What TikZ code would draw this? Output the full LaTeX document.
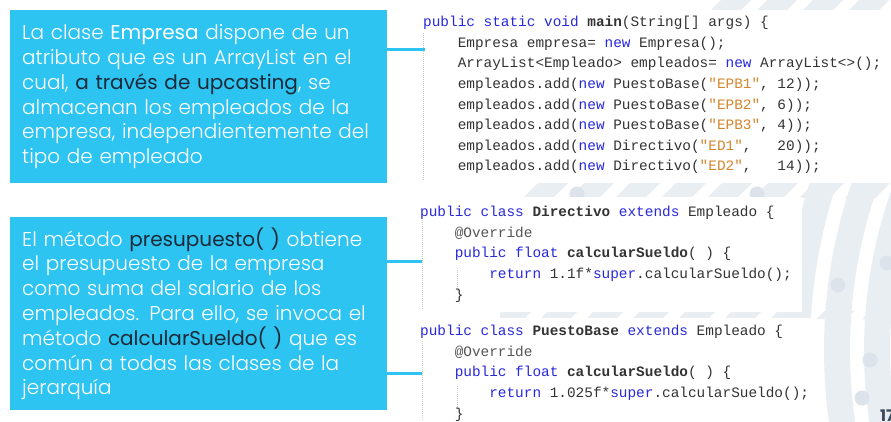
\documentclass[tikz,border=0pt]{standalone}
\usepackage{fontspec}
\setmainfont{Poppins Light}
\newfontfamily\regfont{Poppins}
\setmonofont{Liberation Mono}
\definecolor{boxblue}{HTML}{2EC4F2}
\definecolor{decogray}{HTML}{E9EEF3}
\definecolor{dotgray}{HTML}{DCE3EA}
\definecolor{kwc}{HTML}{2828DC}
\definecolor{strc}{HTML}{D4862E}
\definecolor{codetxt}{HTML}{333333}
\definecolor{annc}{HTML}{555555}
\definecolor{darkc}{HTML}{1B2A38}
\definecolor{pagec}{HTML}{3D4B5C}
\newcommand{\kwd}[1]{\textcolor{kwc}{#1}}
\newcommand{\strg}[1]{\textcolor{strc}{#1}}
\newcommand{\dk}[1]{\textcolor{darkc}{\regfont #1}}
\newcommand{\cind}[1]{\hspace*{#1\dimexpr0.6em\relax}}
\begin{document}
\begin{tikzpicture}[x=1pt, y=-1pt]
    % Define styles
    \tikzset{
        note/.style={fill=boxblue, text=white, anchor=north west, minimum width=377pt, text width=353pt, inner xsep=12pt, inner ysep=0pt, align=left, font=\fontsize{20}{25}\selectfont, execute at begin node={\setlength{\baselineskip}{24.8pt}}},
        panel/.style={fill=white, anchor=north west, inner sep=0pt},
        code/.style={anchor=north west, inner sep=0pt, align=left, text=codetxt, font=\fontsize{14.4}{20.6}\selectfont\ttfamily},
        link/.style={draw=boxblue, line width=3pt},
        guide/.style={draw=black!20, line width=0.6pt, dash pattern=on 1pt off 1pt},
        band/.style={draw=decogray, line width=26pt},
        dot/.style={fill=dotgray}
    }
    \clip (0,0) rectangle (891,421);
    \fill[white] (0,0) rectangle (891,421);

    % Background decoration
    \foreach \r in {545,505,465,425}
        \draw[band] (1342,350) circle[radius=\r];
    \begin{scope}
        \clip (660,0) rectangle (891,10) (520,183) rectangle (891,198) (500,311) rectangle (891,319);
        \foreach \i in {0,...,20}
            \fill[decogray] ({300+\i*46},421) -- ++(30,0) -- ++(421,-421) -- ++(-30,0) -- cycle;
    \end{scope}
    \foreach \p in {(577,194),(757,194),(838,285),(887,263),(870,360),(862,398)}
        \fill[dot] \p circle[radius=7.5];

    % Explanation boxes
    \node[note, minimum height=173pt] (box1) at (10,10) {La clase {\regfont Empresa} dispone de un\\
        atributo que es un ArrayList en el\\
        cual, \dk{a través de upcasting}, se\\
        almacenan los empleados de la\\
        empresa, independientemente del\\
        tipo de empleado};
    \node[note, minimum height=193pt] (box2) at (10,217) {El método \dk{presupuesto( )} obtiene\\
        el presupuesto de la empresa\\
        como suma del salario de los\\
        empleados. Para ello, se invoca el\\
        método \dk{calcularSueldo( )} que es\\
        común a todas las clases de la\\
        jerarquía};

    % Code panels
    \node[panel, minimum width=480pt, minimum height=173pt] (mainpanel) at (420,10) {};
    \node[panel, minimum width=382pt, minimum height=115pt] (dirpanel) at (420,197) {};
    \node[panel, minimum width=395pt, minimum height=110pt] (basepanel) at (420,318) {};

    % Indentation guides
    \draw[guide] (423,33) -- (423,181);
    \draw[guide] (422,220) -- (422,310);
    \draw[guide] (457,268) -- (457,292);
    \draw[guide] (422,341) -- (422,421);
    \draw[guide] (457,386) -- (457,410);

    % Code
    \node[code] (maincode) at (423,16) {\kwd{public static void} \textbf{main}(String[] args) \{\\
        \cind{4}Empresa empresa= \kwd{new} Empresa();\\
        \cind{4}ArrayList<Empleado> empleados= \kwd{new} ArrayList<>();\\
        \cind{4}empleados.add(\kwd{new} PuestoBase(\strg{"EPB1"}, 12));\\
        \cind{4}empleados.add(\kwd{new} PuestoBase(\strg{"EPB2"}, 6));\\
        \cind{4}empleados.add(\kwd{new} PuestoBase(\strg{"EPB3"}, 4));\\
        \cind{4}empleados.add(\kwd{new} Directivo(\strg{"ED1"},\ \ \ 20));\\
        \cind{4}empleados.add(\kwd{new} Directivo(\strg{"ED2"},\ \ \ 14));};
    \node[code] (dircode) at (420,206) {\kwd{public class} \textbf{Directivo} \kwd{extends} Empleado \{\\
        \cind{4}\textcolor{annc}{@Override}\\
        \cind{4}\kwd{public float} \textbf{calcularSueldo}( ) \{\\
        \cind{8}\kwd{return} 1.1f*\kwd{super}.calcularSueldo();\\
        \cind{4}\}};
    \node[code] (basecode) at (420,325) {\kwd{public class} \textbf{PuestoBase} \kwd{extends} Empleado \{\\
        \cind{4}\textcolor{annc}{@Override}\\
        \cind{4}\kwd{public float} \textbf{calcularSueldo}( ) \{\\
        \cind{8}\kwd{return} 1.025f*\kwd{super}.calcularSueldo();\\
        \cind{4}\}};

    % Connectors
    \coordinate (t1) at (425,49);
    \coordinate (t2) at (422,261);
    \coordinate (t3) at (422,373);
    \draw[link] (t1 -| box1.east) -- (t1);
    \draw[link] (t2 -| box2.east) -- (t2);
    \draw[link] (t3 -| box2.east) -- (t3);

    % Page number
    \node[anchor=north west, inner sep=0pt, text=pagec, font=\regfont\bfseries\fontsize{16}{16}\selectfont] (page) at (880,410) {17};
\end{tikzpicture}
\end{document}
